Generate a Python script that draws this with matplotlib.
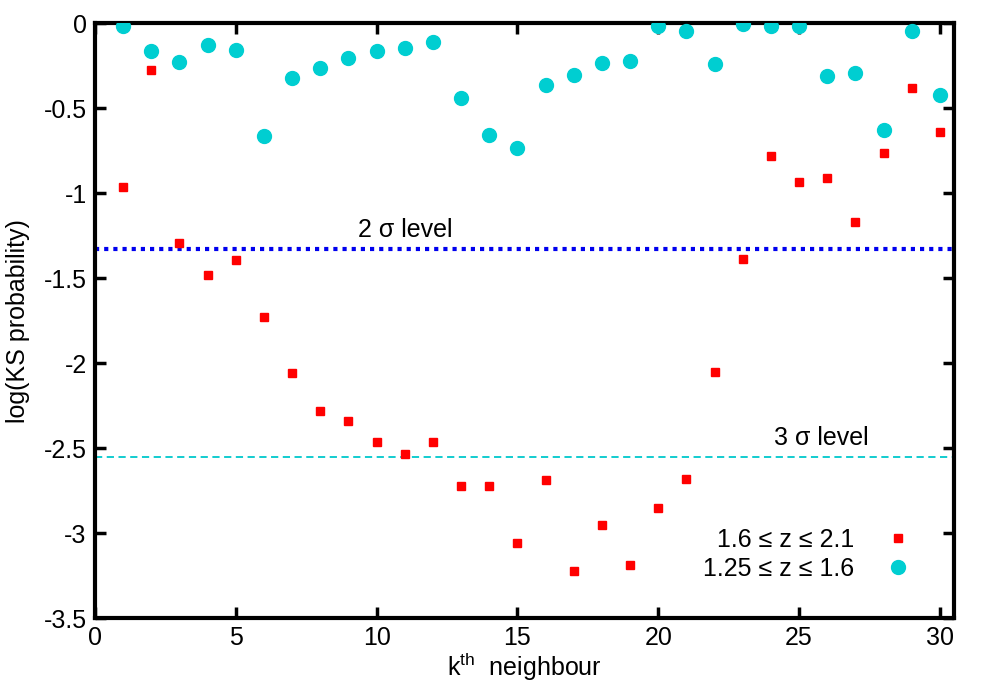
import matplotlib
matplotlib.use("Agg")
import matplotlib.pyplot as plt
import numpy as np

plt.rcParams['font.family'] = ['Liberation Sans', 'DejaVu Sans']
plt.rcParams['font.size'] = 18
plt.rcParams['mathtext.fontset'] = 'custom'
plt.rcParams['mathtext.rm'] = 'Liberation Sans'

k = np.arange(1, 31)

# 1.6 <= z <= 2.1
log_ks_high = [-0.965, -0.276, -1.294, -1.48, -1.394, -1.73, -2.06, -2.28, -2.34, -2.465,
               -2.535, -2.465, -2.72, -2.72, -3.06, -2.69, -3.22, -2.95, -3.19, -2.85,
               -2.68, -2.05, -1.39, -0.78, -0.935, -0.91, -1.17, -0.765, -0.38, -0.64]

# 1.25 <= z <= 1.6
log_ks_low = [-0.018, -0.165, -0.23, -0.13, -0.16, -0.665, -0.32, -0.265, -0.205, -0.165,
              -0.147, -0.11, -0.44, -0.66, -0.735, -0.365, -0.305, -0.235, -0.225, -0.018,
              -0.047, -0.24, -0.006, -0.018, -0.018, -0.31, -0.295, -0.63, -0.047, -0.42]

level_2sigma = -1.33
level_3sigma = -2.55

fig = plt.figure(figsize=(10, 7), dpi=100)
ax = fig.add_axes([0.095, 0.117, 0.859, 0.850])

ax.axhline(level_2sigma, color='#0000ee', linestyle=(0, (1, 1.2)), linewidth=3, zorder=1)
ax.axhline(level_3sigma, color='#00c8cc', linestyle=(0, (4, 2.5)), linewidth=1.3, zorder=1)
ax.text(11.0, level_2sigma + 0.04, '2 σ level', ha='center', va='bottom')
ax.text(25.8, level_3sigma + 0.04, '3 σ level', ha='center', va='bottom')

ax.plot(k, log_ks_high, linestyle='none', marker='s', markersize=5.8, color='#ff0000',
        label='1.6 ≤ z ≤ 2.1', zorder=3)
ax.plot(k, log_ks_low, linestyle='none', marker='o', markersize=10, color='#00ced1',
        label='1.25 ≤ z ≤ 1.6', zorder=3)

ax.set_xlim(0, 30.5)
ax.set_ylim(-3.5, 0)
ax.set_xticks([0, 5, 10, 15, 20, 25, 30])
ax.set_yticks([0, -0.5, -1, -1.5, -2, -2.5, -3, -3.5])
ax.set_yticklabels(['0', '-0.5', '-1', '-1.5', '-2', '-2.5', '-3', '-3.5'])
ax.tick_params(direction='in', top=True, right=True, length=8, width=2.5, labelsize=18, pad=6)
for s in ax.spines.values():
    s.set_linewidth(3)

ax.set_xlabel(r'k$^{\rm th}$  neighbour', fontsize=18, labelpad=0)
ax.set_ylabel('log(KS probability)', fontsize=18, labelpad=10)

ax.legend(loc='lower right', markerfirst=False, frameon=False, fontsize=18,
          bbox_to_anchor=(0.983, 0.025), handletextpad=1.0, labelspacing=0.2,
          handlelength=1.5)

fig.savefig('out.png', dpi=100)
